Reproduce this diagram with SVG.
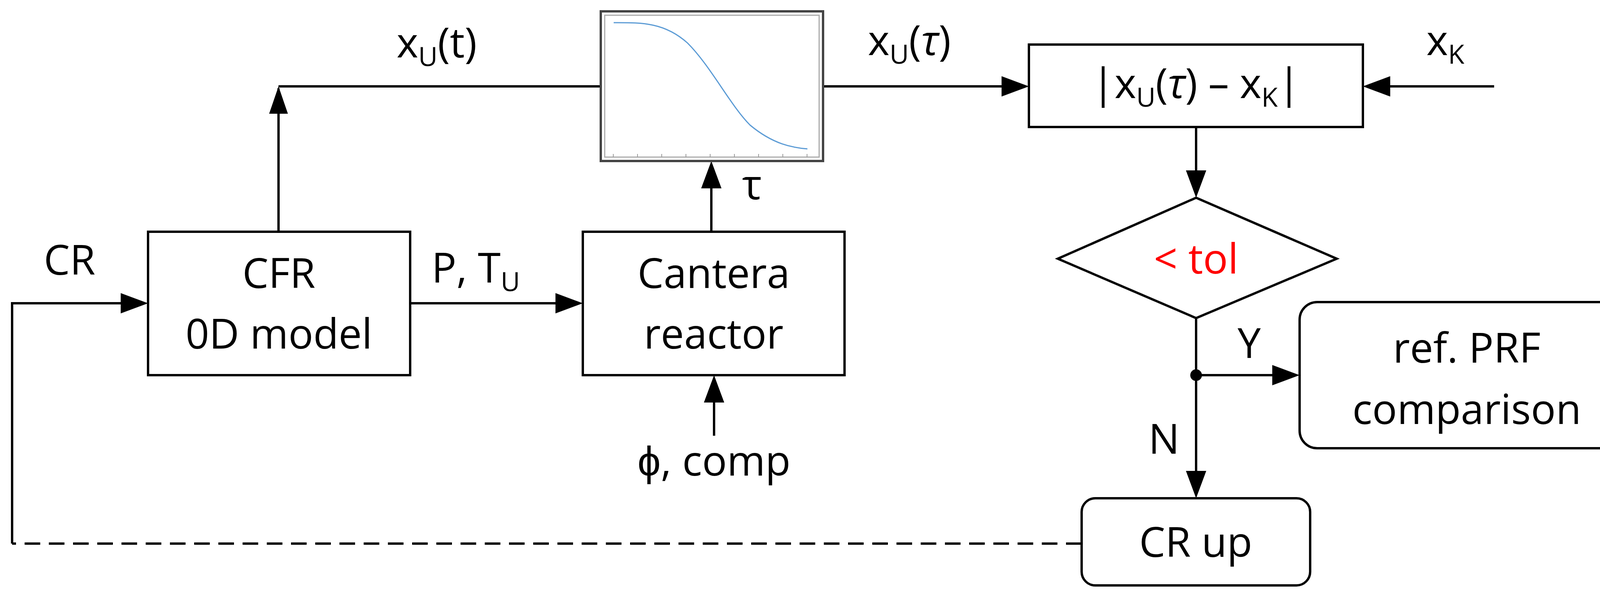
<svg xmlns="http://www.w3.org/2000/svg" width="4210" height="1520" viewBox="0 0 4210 1520">
<style>
.b{fill:#fff;stroke:#000;stroke-width:6}
.l{fill:none;stroke:#000;stroke-width:6}
.t{font-family:"Open Sans","Liberation Sans",sans-serif;font-size:106px;fill:#000;text-anchor:middle}
.s{font-size:68px}
</style>
<g id="connectors">
<path class="l" d="M713,593 V226"/><path d="M713,221 l-24,70 h48 z"/>
<path class="l" d="M713,221 H1538"/>
<path class="l" d="M2107,221 H2570"/><path d="M2634,221 l-70,-26 v52 z"/>
<path class="l" d="M3825,221 H3550"/><path d="M3489,221 l70,-26 v52 z"/>
<path class="l" d="M3062,325 V440"/><path d="M3062,506 l-26,-70 h52 z"/>
<path class="l" d="M1821,593 V475"/><path d="M1821,412 l-26,70 h52 z"/>
<path class="l" d="M1828,1115 V1025"/><path d="M1828,960 l-26,70 h52 z"/>
<path class="l" d="M1050,776 H1430"/><path d="M1492,776 l-70,-26 v52 z"/>
<path class="l" d="M31,1391 V776 H320"/><path d="M379,776 l-70,-26 v52 z"/>
<path class="l" d="M2769,1391 H31" stroke-dasharray="40,22"/>
<path class="l" d="M3062,814 V1210"/><path d="M3062,1275 l-26,-70 h52 z"/>
<path class="l" d="M3062,960 H3262"/><path d="M3327,960 l-70,-26 v52 z"/>
<circle cx="3062" cy="960" r="15"/>
<text class="t" x="178" y="703">CR</text>
<text class="t" x="1118" y="147">x<tspan class="s" dy="22">U</tspan><tspan dy="-22">(t)</tspan></text>
<text class="t" x="1218" y="723">P, T<tspan class="s" dy="22">U</tspan></text>
<text class="t" x="1925" y="510">τ</text>
<text class="t" x="1828" y="1217">ϕ, comp</text>
<text class="t" x="2328" y="141">x<tspan class="s" dy="22">U</tspan><tspan dy="-22">(</tspan><tspan font-style="italic">τ</tspan>)</text>
<text class="t" x="3700" y="141">x<tspan class="s" dy="22">K</tspan></text>
<text class="t" x="3198" y="916">Y</text>
<text class="t" x="2980" y="1161">N</text>
</g>
<g id="cfr"><rect class="b" x="379" y="593" width="671" height="367"/>
<text class="t" x="714" y="737">CFR</text><text class="t" x="714" y="892">0D model</text></g>
<g id="cantera"><rect class="b" x="1492" y="593" width="670" height="367"/>
<text class="t" x="1827" y="737">Cantera</text><text class="t" x="1827" y="892">reactor</text></g>
<g id="plot"><rect x="1538" y="29" width="569" height="383" fill="#fff" stroke="#444" stroke-width="6"/>
<rect x="1548" y="39" width="549" height="363" fill="#fff" stroke="#aaa" stroke-width="3"/>
<path d="M1571,58 C1640,58 1700,56 1760,110 C1820,170 1870,270 1920,320 C1980,370 2030,378 2067,381" fill="none" stroke="#5b9bd5" stroke-width="3"/>
<path d="M1570,402 v-8 M1632,402 v-8 M1694,402 v-8 M1756,402 v-8 M1818,402 v-8 M1880,402 v-8 M1942,402 v-8 M2004,402 v-8 M2066,402 v-8" stroke="#999" stroke-width="2"/></g>
<g id="diff"><rect class="b" x="2634" y="114" width="855" height="211"/>
<text class="t" x="3062" y="251">|x<tspan class="s" dy="22">U</tspan><tspan dy="-22">(</tspan><tspan font-style="italic">τ</tspan>) – x<tspan class="s" dy="22">K</tspan><tspan dy="-22">|</tspan></text></g>
<g id="tol"><path class="b" d="M3062,506 L3422,662 L3062,814 L2708,662 z"/>
<text class="t" x="3062" y="700" style="fill:#ff0000">&lt; tol</text></g>
<g id="ref"><rect class="b" x="3327" y="773" width="856" height="374" rx="45"/>
<text class="t" x="3755" y="928">ref. PRF</text><text class="t" x="3755" y="1085">comparison</text></g>
<g id="crup"><rect class="b" x="2769" y="1275" width="585" height="223" rx="35"/>
<text class="t" x="3061" y="1425">CR up</text></g>
</svg>
